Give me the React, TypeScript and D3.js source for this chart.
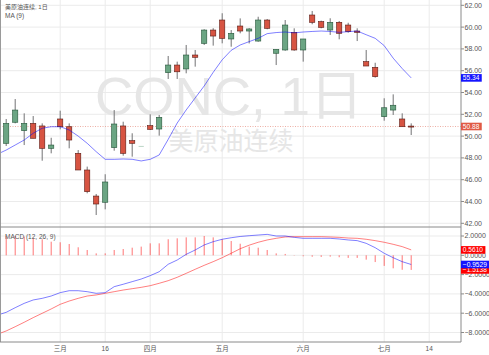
import React from 'react';
import * as d3 from 'd3';

// ---- Data ----
const opens = [49.34, 51.27, 50.5, 51.17, 50.93, 48.88, 51.57, 50.86, 48.42, 46.89, 44.5, 43.93, 48.94, 50.93, 49.58, 49.1, 50.96, 50.65, 55.82, 56.52, 56.16, 57.44, 58.51, 59.73, 60.65, 58.91, 60.1, 59.64, 58.72, 60.65, 57.6, 57.9, 59.52, 57.9, 61.11, 60.5, 59.73, 60.44, 60.19, 59.64, 56.83, 56.31, 51.78, 52.39, 51.57, 50.92];
const highs = [51.57, 53.4, 52.09, 51.84, 51.17, 49.85, 52.33, 51.17, 48.72, 47.2, 44.69, 46.5, 52.39, 51.32, 50.26, 49.1, 52.0, 51.94, 57.35, 56.83, 58.36, 57.9, 59.8, 59.9, 61.27, 59.73, 60.8, 59.9, 60.95, 60.74, 57.96, 60.65, 59.89, 58.91, 61.48, 60.59, 60.81, 60.56, 60.4, 59.89, 57.9, 56.73, 53.47, 53.83, 52.09, 51.17];
const lows = [49.09, 51.17, 49.18, 49.8, 47.74, 48.42, 50.62, 48.88, 46.89, 44.75, 42.76, 43.28, 48.66, 48.2, 48.11, 49.1, 50.56, 50.04, 55.24, 55.24, 55.76, 56.37, 58.36, 58.3, 58.51, 58.2, 59.43, 58.5, 58.66, 59.8, 56.52, 57.83, 57.83, 56.83, 60.26, 59.89, 59.28, 58.88, 59.49, 58.72, 56.43, 55.36, 51.41, 51.94, 50.86, 50.1];
const closes = [51.17, 52.39, 51.17, 49.8, 48.88, 49.18, 50.86, 49.64, 46.89, 44.9, 43.77, 45.79, 51.11, 48.42, 49.34, 49.1, 50.62, 51.72, 56.52, 55.9, 57.44, 57.23, 59.73, 59.18, 58.97, 59.43, 59.64, 59.83, 60.65, 59.89, 57.96, 60.19, 57.9, 58.91, 60.44, 59.98, 60.44, 59.43, 59.58, 59.52, 56.43, 55.45, 52.6, 52.83, 50.86, 50.88];

// MA(9), first value belongs to the bar before the first visible one
const ma9 = [48.33, 48.72, 49.18, 49.64, 50.26, 50.72, 50.86, 50.86, 50.56, 50.0, 49.34, 48.57, 47.87, 47.87, 47.9, 47.87, 47.72, 47.87, 48.27, 49.7, 51.2, 52.4, 53.5, 54.6, 55.85, 57.0, 57.87, 58.36, 58.67, 58.97, 59.4, 59.5, 59.55, 59.47, 59.55, 59.6, 59.64, 59.6, 59.52, 59.58, 59.64, 59.3, 58.97, 58.3, 57.15, 56.2, 55.34];

// MACD line and signal, first value belongs to the bar before the first visible one
const macdLine = [-6.2, -5.91, -5.43, -4.98, -4.63, -4.46, -4.22, -3.87, -3.67, -3.67, -3.77, -3.94, -3.87, -3.25, -3.0, -2.73, -2.46, -2.11, -1.7, -0.93, -0.49, 0.1, 0.55, 1.07, 1.41, 1.66, 1.82, 1.95, 2.03, 2.1, 2.17, 2.0, 2.0, 1.86, 1.76, 1.76, 1.76, 1.76, 1.69, 1.59, 1.52, 1.24, 0.79, 0.21, -0.25, -0.66, -0.9529];
const signalLine = [-8.19, -7.84, -7.4, -6.94, -6.46, -6.01, -5.56, -5.08, -4.74, -4.46, -4.22, -4.11, -3.94, -3.77, -3.6, -3.46, -3.32, -3.15, -2.9, -2.63, -2.28, -1.87, -1.45, -1.04, -0.66, -0.25, 0.21, 0.68, 1.05, 1.35, 1.59, 1.76, 1.9, 1.93, 1.93, 1.93, 1.93, 1.9, 1.86, 1.79, 1.76, 1.66, 1.52, 1.35, 1.14, 0.9, 0.561];
const histogram = [2.0, 2.0, 1.93, 1.82, 1.66, 1.41, 1.35, 1.17, 0.83, 0.55, 0.2, 0.2, 0.55, 0.65, 0.79, 0.9, 1.24, 1.24, 1.66, 1.76, 1.86, 1.86, 2.0, 1.86, 1.66, 1.48, 1.2, 0.9, 0.79, 0.55, 0.2, 0.14, 0.03, -0.1, -0.15, -0.17, -0.14, -0.2, -0.27, -0.27, -0.45, -0.7, -1.1, -1.35, -1.5, -1.5138];

const priceTicks = [62, 60, 58, 56, 54, 52, 50, 48, 46, 44, 42];
const macdTicks = [2, 0, -2, -4, -6, -8];
const xTickLabels = ['三月', '16', '四月', '五月', '六月', '七月', '14'];
const xTickIndex = [6, 11, 16, 24, 33, 42, 47];

const titleText = '美原油连续, 1日';
const maLabel = 'MA (9)';
const macdLabel = 'MACD (12, 26, 9)';
const watermark = 'CONC, 1日';
const watermarkSub = '美原油连续';

// ---- Styles ----
const UP = '#6ba583';
const UP_BORDER = '#225437';
const DOWN = '#d75442';
const DOWN_BORDER = '#5b1a13';
const WICK = '#737375';
const GRID = '#ebebeb';
const AXIS = '#8a8a8a';
const TEXT = '#555';
const FONT = '"Liberation Sans", Arial, "Noto Sans CJK SC", sans-serif';

export default function App() {
  const W = 489;
  const H = 355;
  const plotRight = 461;
  const paneSep = 227;
  const plotBottom = 342;

  const x = d3.scaleLinear().domain([0, 45]).range([6.2, 411.2]);
  const yP = d3.scaleLinear().domain([42, 62]).range([223.3, 5.3]);
  const yM = d3.scaleLinear().domain([-8, 2]).range([332.5, 236]);

  const maPath = d3.line<number>().x((_, i) => x(i - 1)).y((d) => yP(d))(ma9) || '';
  const macdPath = d3.line<number>().x((_, i) => x(i - 1)).y((d) => yM(d))(macdLine) || '';
  const sigPath = d3.line<number>().x((_, i) => x(i - 1)).y((d) => yM(d))(signalLine) || '';

  const lastClose = closes[closes.length - 1];
  const lastMa = ma9[ma9.length - 1];
  const lastMacd = macdLine[macdLine.length - 1];
  const lastSig = signalLine[signalLine.length - 1];
  const lastHist = histogram[histogram.length - 1];

  const box = (val: number, text: string, fill: string, y: number, key: string) => {
    const w = text.length * 3.65 + 2.5;
    return (
      <g key={key}>
        <rect x={plotRight} y={y - 3.8} width={w} height={7.6} fill={fill} />
        <text x={plotRight + 1.8} y={y + 2.4} fontSize={6.6} fill="#fff" fontFamily={FONT}>{text}</text>
      </g>
    );
  };

  return (
    <svg width={W} height={H} style={{ position: 'absolute', left: 0, top: 0, background: '#fff' }}>
      <defs>
        <clipPath id="pricePane"><rect x={0} y={0} width={plotRight} height={paneSep} /></clipPath>
        <clipPath id="macdPane"><rect x={0} y={paneSep} width={plotRight} height={plotBottom - paneSep} /></clipPath>
      </defs>
      <rect x={0} y={0} width={W} height={H} fill="#fff" />

      {/* grid */}
      {priceTicks.map((t) => (
        <line key={'pg' + t} x1={0} x2={plotRight} y1={yP(t)} y2={yP(t)} stroke={GRID} strokeWidth={1} />
      ))}
      {macdTicks.map((t) => (
        <line key={'mg' + t} x1={0} x2={plotRight} y1={yM(t)} y2={yM(t)} stroke={GRID} strokeWidth={1} />
      ))}
      {xTickIndex.map((t) => (
        <line key={'vg' + t} x1={x(t)} x2={x(t)} y1={0} y2={plotBottom} stroke={GRID} strokeWidth={1} />
      ))}

      {/* watermark */}
      <text x={229} y={115} fontSize={53} textAnchor="middle" fill="#e6e6e6" fontFamily={FONT}>{watermark}</text>
      <text x={231} y={150} fontSize={25} textAnchor="middle" fill="#e6e6e6" fontFamily={FONT}>{watermarkSub}</text>

      {/* last price line */}
      <line x1={0} x2={plotRight} y1={yP(lastClose)} y2={yP(lastClose)} stroke="#e89a8e" strokeDasharray="1,1.5" strokeWidth={0.8} />

      {/* candles */}
      <g clipPath="url(#pricePane)">
        {closes.map((c, i) => {
          const o = opens[i];
          const up = c >= o;
          const cx = x(i);
          const top = yP(Math.max(o, c));
          const bot = yP(Math.min(o, c));
          const flat = highs[i] === lows[i];
          return (
            <g key={'c' + i}>
              {!flat && (
                <line x1={cx} x2={cx} y1={yP(highs[i])} y2={yP(lows[i])} stroke={WICK} strokeWidth={1} />
              )}
              <rect
                x={cx - 2.6}
                y={top}
                width={5.2}
                height={Math.max(bot - top, 1)}
                fill={up ? UP : DOWN}
                stroke={flat ? 'none' : up ? UP_BORDER : DOWN_BORDER}
                strokeWidth={0.6}
                opacity={flat ? 0.45 : 1}
              />
            </g>
          );
        })}
        <path d={maPath} fill="none" stroke="#0000ff" strokeOpacity={0.5} strokeWidth={1} />
      </g>

      {/* MACD pane */}
      <g clipPath="url(#macdPane)">
        {histogram.map((h, i) => (
          <line key={'h' + i} x1={x(i)} x2={x(i)} y1={yM(0)} y2={yM(h)} stroke="#ff0000" strokeOpacity={0.55} strokeWidth={1} />
        ))}
        <path d={sigPath} fill="none" stroke="#ff0000" strokeOpacity={0.5} strokeWidth={1} />
        <path d={macdPath} fill="none" stroke="#0000ff" strokeOpacity={0.5} strokeWidth={1} />
      </g>

      {/* frame / axes */}
      <line x1={0.5} x2={0.5} y1={0} y2={plotBottom} stroke="#9a9a9a" strokeWidth={1} />
      <line x1={plotRight} x2={plotRight} y1={0} y2={plotBottom} stroke={AXIS} strokeWidth={1} />
      <line x1={0} x2={plotRight} y1={paneSep} y2={paneSep} stroke={AXIS} strokeWidth={1} />
      <line x1={0} x2={plotRight} y1={plotBottom} y2={plotBottom} stroke={AXIS} strokeWidth={1} />

      {/* price axis labels */}
      {priceTicks.map((t) => (
        <g key={'pl' + t}>
          <line x1={plotRight} x2={plotRight + 3} y1={yP(t)} y2={yP(t)} stroke={AXIS} strokeWidth={1} />
          <text x={plotRight + 3.5} y={yP(t) + 2.4} fontSize={7} fill={TEXT} fontFamily={FONT}>{d3.format('.2f')(t)}</text>
        </g>
      ))}
      {macdTicks.map((t) => (
        <g key={'ml' + t}>
          <line x1={plotRight} x2={plotRight + 3} y1={yM(t)} y2={yM(t)} stroke={AXIS} strokeWidth={1} />
          <text x={plotRight + 3.5} y={yM(t) + 2.4} fontSize={7} fill={TEXT} fontFamily={FONT}>{d3.format('.4f')(t)}</text>
        </g>
      ))}

      {/* x axis labels */}
      {xTickIndex.map((t, k) => (
        <text key={'xl' + t} x={x(t)} y={351} fontSize={6.5} textAnchor="middle" fill={TEXT} fontFamily={FONT}>{xTickLabels[k]}</text>
      ))}

      {/* value boxes */}
      {box(lastMa, d3.format('.2f')(lastMa), '#1414ff', yP(lastMa), 'bma')}
      {box(lastClose, d3.format('.2f')(lastClose), '#e05a44', yP(lastClose), 'bcl')}
      {box(lastSig, d3.format('.4f')(lastSig), '#ff0000', yM(lastSig), 'bsig')}
      {box(lastHist, d3.format('.4f')(lastHist), '#ff0000', yM(lastHist), 'bhist')}
      {box(lastMacd, d3.format('.4f')(lastMacd), '#1414ff', yM(lastMacd), 'bmacd')}

      {/* legends */}
      <text x={5} y={8.5} fontSize={6} fill={TEXT} fontFamily={FONT}>{titleText}</text>
      <text x={5} y={18} fontSize={6.5} fill={TEXT} fontFamily={FONT}>{maLabel}</text>
      <text x={5} y={239} fontSize={6.5} fill={TEXT} fontFamily={FONT}>{macdLabel}</text>
    </svg>
  );
}
